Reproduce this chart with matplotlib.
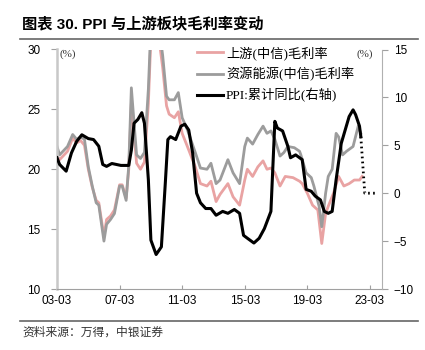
import matplotlib
matplotlib.use("Agg")
import matplotlib.pyplot as plt
import pandas as pd
from matplotlib.lines import Line2D
from matplotlib.font_manager import FontProperties
import matplotlib.dates as mdates

plt.rcParams['font.family'] = ['Liberation Sans', 'Noto Sans CJK SC', 'DejaVu Sans']

# ---------------- data ----------------
up_dates = ['2003-03', '2003-05', '2003-11', '2004-03', '2004-06', '2004-09', '2004-12',
            '2005-03', '2005-06', '2005-09', '2005-11', '2006-03', '2006-05', '2006-08',
            '2006-11', '2007-03', '2007-05', '2007-08', '2007-10', '2007-12', '2008-02',
            '2008-04', '2008-07', '2008-10', '2009-01', '2009-03', '2009-06', '2009-09',
            '2009-12', '2010-03', '2010-05', '2010-09', '2010-12', '2011-03', '2011-07',
            '2012-01', '2012-05', '2012-10', '2013-01', '2013-05', '2013-08', '2014-02',
            '2014-06', '2014-11', '2015-03', '2015-05', '2015-09', '2016-01', '2016-05',
            '2016-08', '2016-11', '2017-02', '2017-06', '2017-10', '2018-04', '2018-09',
            '2018-11', '2019-03', '2019-07', '2019-11', '2020-02', '2020-05', '2020-07',
            '2020-11', '2021-03', '2021-07', '2021-11', '2022-03', '2022-07', '2022-09']
upstream = [21.1, 20.8, 21.5, 22.6, 22.2, 22.4, 22.0,
            20.0, 18.5, 17.4, 17.2, 14.4, 15.8, 16.1,
            16.6, 18.7, 18.7, 17.6, 20.0, 25.5, 23.0,
            20.5, 20.0, 20.6, 25.5, 31.0, 32.0, 31.0,
            28.5, 25.3, 24.6, 24.3, 24.8, 23.0, 21.9,
            20.2, 18.8, 18.6, 19.0, 17.3, 17.9, 18.8,
            17.7, 17.0, 19.1, 20.0, 19.4, 20.2, 20.7,
            20.0, 20.1, 19.7, 18.6, 19.4, 19.3, 19.0,
            18.8, 18.0, 17.0, 16.6, 13.8, 16.3, 16.9,
            18.0, 19.4, 18.6, 18.8, 19.1, 19.1, 19.4]

res_dates = ['2003-03', '2003-05', '2003-11', '2004-03', '2004-06', '2004-09', '2004-12',
             '2005-03', '2005-06', '2005-09', '2005-11', '2006-03', '2006-05', '2006-08',
             '2006-11', '2007-03', '2007-05', '2007-08', '2007-10', '2007-12', '2008-02',
             '2008-04', '2008-07', '2008-10', '2009-01', '2009-03', '2009-06', '2009-09',
             '2009-12', '2010-03', '2010-05', '2010-09', '2010-12', '2011-03', '2011-07',
             '2012-01', '2012-05', '2012-10', '2013-01', '2013-05', '2013-08', '2014-02',
             '2014-06', '2014-11', '2015-03', '2015-05', '2015-09', '2016-01', '2016-05',
             '2016-08', '2016-11', '2017-02', '2017-06', '2017-09', '2017-12', '2018-05',
             '2018-09', '2018-10', '2019-02', '2019-06', '2019-08', '2019-12', '2020-02',
             '2020-05', '2020-07', '2020-10', '2021-01', '2021-03', '2021-06', '2021-09',
             '2022-02', '2022-06', '2022-08']
resource = [21.9, 21.2, 21.9, 22.9, 22.5, 22.7, 22.5,
            20.2, 18.6, 17.2, 17.0, 14.0, 15.4, 15.8,
            16.3, 18.6, 18.6, 17.4, 20.3, 26.8, 23.9,
            21.2, 20.9, 21.4, 26.7, 32.0, 33.0, 32.0,
            29.5, 26.1, 25.8, 25.8, 26.4, 24.3, 23.3,
            21.4, 20.1, 20.0, 20.5, 18.8, 19.1, 20.8,
            19.7, 18.8, 21.9, 22.6, 22.1, 22.9, 23.6,
            23.0, 23.2, 22.5, 21.1, 21.4, 21.9, 21.8,
            21.5, 21.2, 19.7, 19.3, 18.6, 16.9, 15.2,
            18.0, 19.4, 20.0, 23.0, 22.7, 21.2, 21.5,
            21.9, 23.6, 23.0]

ppi_dates = ['2003-03', '2003-05', '2003-10', '2004-02', '2004-06', '2004-10', '2005-03',
             '2005-07', '2005-11', '2006-02', '2006-05', '2006-09', '2007-04', '2007-10',
             '2007-12', '2008-02', '2008-05', '2008-08', '2008-10', '2009-01', '2009-03',
             '2009-07', '2009-11', '2010-02', '2010-04', '2010-06', '2010-10', '2011-02',
             '2011-05', '2011-08', '2011-11', '2012-02', '2012-05', '2012-09', '2013-01',
             '2013-05', '2013-10', '2014-02', '2014-07', '2014-11', '2015-02', '2015-05',
             '2015-10', '2016-02', '2016-06', '2016-11', '2017-02', '2017-04', '2017-08',
             '2017-12', '2018-02', '2018-06', '2018-11', '2019-02', '2019-06', '2019-09',
             '2020-01', '2020-04', '2020-07', '2020-10', '2021-01', '2021-05', '2021-08',
             '2021-11', '2022-02', '2022-04', '2022-07', '2022-08']
ppi = [3.7, 3.0, 2.3, 4.2, 5.4, 6.1, 5.7,
       5.6, 4.9, 3.0, 2.8, 3.1, 2.9, 2.9,
       4.5, 7.3, 7.7, 8.4, 7.3, 1.4, -4.9,
       -6.4, -5.6, 1.1, 5.6, 5.9, 5.6, 7.0,
       7.2, 6.6, 4.2, 0.0, -1.0, -1.6, -1.6,
       -2.3, -1.9, -2.1, -1.7, -2.1, -4.4, -4.7,
       -5.2, -4.7, -3.7, -1.9, 7.5, 6.8, 6.5,
       4.9, 3.7, 4.0, 3.5, 0.4, 0.2, -0.3,
       -0.7, -1.9, -2.1, -1.9, 1.4, 5.2, 6.6,
       8.0, 8.7, 8.2, 7.0, 5.9]

ppi_fc_dates = ['2022-08', '2022-11', '2023-09']
ppi_fc = [5.9, 0.0, 0.0]

xtick_labels = ['03-03', '07-03', '11-03', '15-03', '19-03', '23-03']
left_ticks = [10, 15, 20, 25, 30]
right_ticks = [-10, -5, 0, 5, 10, 15]

labels = ['上游(中信)毛利率', '资源能源(中信)毛利率', 'PPI:累计同比(右轴)']

# ---------------- figure ----------------
W, H = 425, 350
fig = plt.figure(figsize=(W / 100, H / 100), dpi=100)
ax1 = fig.add_axes([57 / W, 1 - 289 / H, (382.5 - 57) / W, (289 - 49.5) / H])
ax2 = ax1.twinx()

pink = '#E9A3A3'
grey = '#9C9C9C'

l1, = ax1.plot(pd.to_datetime(up_dates), upstream, color=pink, lw=2.0, solid_joinstyle='round')
l2, = ax1.plot(pd.to_datetime(res_dates), resource, color=grey, lw=2.0, solid_joinstyle='round')
l3, = ax2.plot(pd.to_datetime(ppi_dates), ppi, color='black', lw=2.2, solid_joinstyle='round')
ax2.plot(pd.to_datetime(ppi_fc_dates), ppi_fc, color='black', lw=2.0, linestyle=(0, (0.6, 1.2)))

ax1.set_ylim(10, 30)
ax2.set_ylim(-10, 15)
ax1.set_yticks(left_ticks)
ax2.set_yticks(right_ticks)
ax1.set_xlim(pd.Timestamp('2003-03-01'), pd.Timestamp('2023-12-20'))
xt = pd.to_datetime(['20' + s[:2] + '-' + s[3:] + '-01' for s in xtick_labels])
ax1.set_xticks(xt)
ax1.set_xticklabels(xtick_labels)

tickfont = 8.5
for ax in (ax1, ax2):
    ax.spines['top'].set_visible(False)
ax1.spines['left'].set_color('#C8C8C8')
ax1.spines['left'].set_linewidth(1.8)
ax1.spines['right'].set_visible(False)
ax2.spines['left'].set_visible(False)
ax2.spines['bottom'].set_visible(False)
ax2.spines['right'].set_color('#B0B0B0')
ax2.spines['right'].set_linewidth(0.8)
ax1.spines['bottom'].set_color('#A0A0A0')
ax1.spines['bottom'].set_linewidth(0.8)

ax1.tick_params(axis='y', direction='out', length=4, width=0.8, color='#A0A0A0',
                pad=8, labelsize=tickfont)
ax2.tick_params(axis='y', direction='out', length=4, width=0.8, color='#A0A0A0',
                pad=4, labelsize=tickfont)
ax1.tick_params(axis='x', direction='in', length=3, width=0.8, color='#A0A0A0',
                pad=4, labelsize=tickfont)

serif_cjk = ['Liberation Serif', 'Noto Sans CJK SC']
ax1.text(60 / W, 1 - 54 / H, '(%)', transform=fig.transFigure, ha='left', va='center',
         fontsize=8, family=serif_cjk, color='#333333')
ax1.text(373 / W, 1 - 54 / H, '(%)', transform=fig.transFigure, ha='right', va='center',
         fontsize=8, family=serif_cjk, color='#333333')

fig.legend([l1, l2, l3], labels, loc='upper left',
           bbox_to_anchor=(197 / W, 1 - 46 / H), bbox_transform=fig.transFigure,
           frameon=False, borderpad=0, borderaxespad=0, handlelength=2.0,
           handletextpad=0.2, labelspacing=0.55,
           prop=FontProperties(family=serif_cjk, size=9.5))

# title and source
fig.text(22 / W, 1 - 24 / H, '图表 30. PPI 与上游板块毛利率变动', ha='left', va='center',
         fontsize=11, fontweight='bold', family=['Liberation Sans', 'Noto Sans CJK SC'])
fig.add_artist(Line2D([20 / W, 418 / W], [1 - 39 / H] * 2, color='#666666', lw=1.2))
fig.add_artist(Line2D([20 / W, 418 / W], [1 - 321 / H] * 2, color='#666666', lw=1.2))
fig.text(22 / W, 1 - 332 / H, '资料来源：万得，中银证券', ha='left', va='center',
         fontsize=8.5, family=['Noto Sans CJK SC'], color='#333333')

fig.savefig('out.png', dpi=100)
